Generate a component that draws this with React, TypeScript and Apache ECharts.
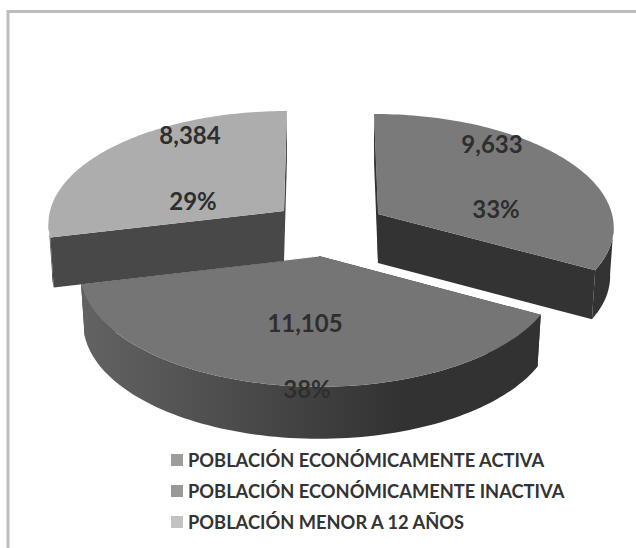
import React, { useEffect, useRef } from "react";
import * as echarts from "echarts";

const categories = [
  "POBLACIÓN ECONÓMICAMENTE ACTIVA",
  "POBLACIÓN ECONÓMICAMENTE INACTIVA",
  "POBLACIÓN MENOR A 12 AÑOS",
];
const values = [9633, 11105, 8384];
const legendColors = ["#9d9d9d", "#999999", "#c2c2c2"];
const topColors = ["#7a7a7a", "#757575", "#adadad"];
const wallLeft = ["#333333", "#636363", "#484848"];
const wallRight = ["#333333", "#323232", "#484848"];

// projection of each exploded slice: apex, radii, perspective, lean, thickness
const apexX = [378, 319, 284];
const apexY = [214, 256, 211];
const radiusX = [234, 237, 234];
const radiusY = [110, 113, 110];
const perspective = [0.1, 0.136, 0.1];
const shear = [0.04, 0, -0.03];
const depth = [49, 52, 50];
// label centres
const valueLabelX = [492, 305, 190];
const valueLabelY = [143, 322, 134];
const pctLabelX = [496, 307, 193];
const pctLabelY = [208, 388, 200];

const total = values.reduce((a, b) => a + b, 0);
const startAngles = values.map(
  (_, i) => (values.slice(0, i).reduce((a, b) => a + b, 0) / total) * 360
);

function project(i: number, deg: number, bottom: boolean): number[] {
  const t = (deg * Math.PI) / 180;
  const u = Math.sin(t);
  const v = -Math.cos(t);
  const d = 1 - perspective[i] * v;
  let y = (radiusY[i] * v) / d;
  let x = (radiusX[i] * u) / d + shear[i] * y;
  if (bottom) x *= 0.985;
  return [apexX[i] + x, apexY[i] + y + (bottom ? depth[i] : 0)];
}

function arc(i: number, from: number, to: number, bottom: boolean): number[][] {
  const pts: number[][] = [];
  const n = 90;
  for (let k = 0; k <= n; k++) pts.push(project(i, from + ((to - from) * k) / n, bottom));
  return pts;
}

function labelEl(text: string, x: number, y: number) {
  return {
    type: "text",
    style: {
      text,
      x,
      y,
      fill: "#2e2e2e",
      font: 'bold 24px Lato, "Open Sans", sans-serif',
      align: "center",
      verticalAlign: "middle",
    },
  };
}

function renderSlice(i: number) {
  return (_params: any, api: any) => {
    const value = api.value(0) as number;
    const from = startAngles[i];
    const to = from + (value / total) * 360;
    const topArc = arc(i, from, to, false);
    const bottomArc = arc(i, from, to, true);
    const apexTop = [apexX[i], apexY[i]];
    const apexBottom = [apexX[i], apexY[i] + depth[i]];
    const wallFill = {
      type: "linear",
      x: 0,
      y: 0,
      x2: 1,
      y2: 0,
      colorStops: [
        { offset: 0, color: wallLeft[i] },
        { offset: 0.7, color: wallRight[i] },
        { offset: 1, color: wallRight[i] },
      ],
    };
    const children: any[] = [];
    // cut faces
    const cut = (arcTop: number[], arcBottom: number[]) => ({
      type: "polygon",
      shape: { points: [apexTop, arcTop, arcBottom, apexBottom] },
      style: { fill: wallRight[i] },
    });
    children.push(cut(topArc[0], bottomArc[0]));
    children.push(cut(topArc[topArc.length - 1], bottomArc[bottomArc.length - 1]));
    if (i === 0) {
      children.push({
        type: "polygon",
        shape: { points: [topArc[0], apexTop, apexBottom] },
        style: { fill: wallRight[i] },
      });
    }
    // outer wall, only the part of the rim that faces the viewer
    const silhouette = (Math.acos(-perspective[i]) * 180) / Math.PI;
    const wallFrom = Math.max(from, silhouette);
    const wallTo = Math.min(to, 360 - silhouette);
    children.push({
      type: "polygon",
      shape: {
        points: arc(i, wallFrom, wallTo, false).concat(arc(i, wallFrom, wallTo, true).reverse()),
      },
      style: { fill: wallFill },
    });
    // top face
    children.push({
      type: "polygon",
      shape: { points: [apexTop].concat(topArc) },
      style: { fill: topColors[i] },
    });
    if (i === 1) {
      children.push({
        type: "polyline",
        shape: { points: [topArc[topArc.length - 1], apexTop] },
        style: { stroke: "#ffffff", lineWidth: 1.2, fill: "none" },
      });
    }
    const pct = Math.round((value / total) * 100) + "%";
    children.push(labelEl(value.toLocaleString("en-US"), valueLabelX[i], valueLabelY[i]));
    children.push(labelEl(pct, pctLabelX[i], pctLabelY[i]));
    return { type: "group", children };
  };
}

export default function App() {
  const ref = useRef<HTMLDivElement>(null);
  useEffect(() => {
    const chart = echarts.init(ref.current!, null, { renderer: "svg" });
    chart.setOption({
      animation: false,
      backgroundColor: "#ffffff",
      graphic: [
        {
          type: "rect",
          silent: true,
          shape: { x: 8, y: 11.5, width: 800, height: 800 },
          style: { fill: "none", stroke: "#bdbdbd", lineWidth: 3 },
        },
      ],
      legend: {
        orient: "vertical",
        left: 171,
        top: 451,
        height: 92,
        width: 440,
        padding: 0,
        itemWidth: 12,
        itemHeight: 12,
        itemGap: 13,
        itemStyle: { borderWidth: 0 },
        icon: "rect",
        textStyle: {
          fontFamily: "Lato",
          fontWeight: "bold",
          fontSize: 18.3,
          lineHeight: 14,
          color: "#333333",
        },
        data: categories,
      },
      series: categories.map((name, i) => ({
        type: "custom",
        name,
        coordinateSystem: "none",
        clip: false,
        silent: true,
        itemStyle: { color: legendColors[i] },
        renderItem: renderSlice(i),
        data: [[values[i]]],
      })),
    });
    return () => chart.dispose();
  }, []);
  return (
    <div
      ref={ref}
      style={{ position: "fixed", left: 0, top: 0, width: 636, height: 548 }}
    />
  );
}
